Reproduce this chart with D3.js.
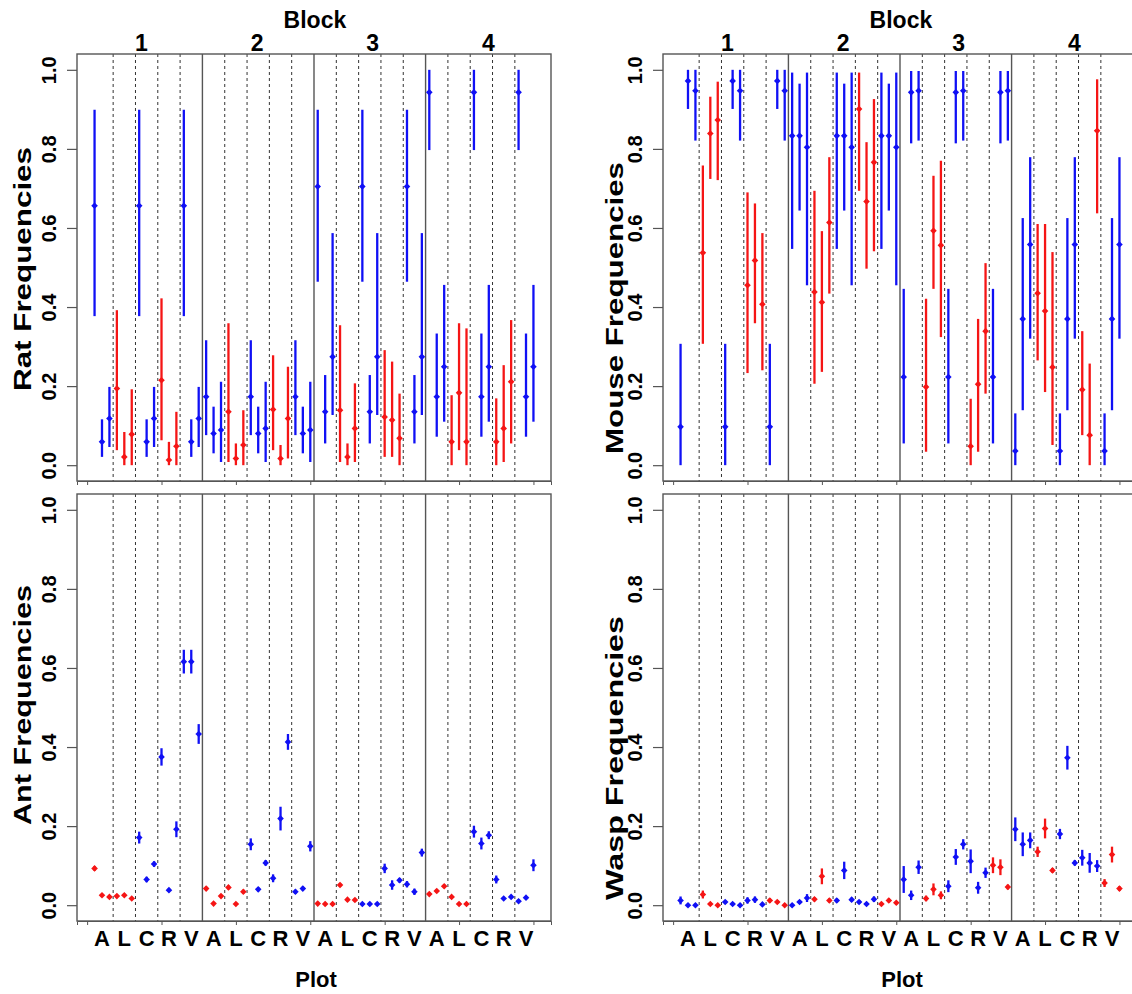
<!DOCTYPE html>
<html><head><meta charset="utf-8">
<script src="https://cdn.jsdelivr.net/npm/d3@7"></script>
<style>
body{margin:0;background:#fff;}
text{font-family:"Liberation Sans",Arial,Helvetica,sans-serif;font-weight:bold;fill:#000;}
</style></head>
<body><svg id="c" width="1132" height="994"></svg>
<script>
const plotLabels = ["A","L","C","R","V"];
const blockLabels = ["1","2","3","4"];
const yTicks = [0,0.2,0.4,0.6,0.8,1.0];
const xTicks = [0,10,20,30,40,50,60];

const ratColors   = ["blue","red","blue","red","blue"];
const mouseColors = ["blue","red","blue","red","blue"];
const antColors   = ["red","red","blue","blue","blue"];
const waspColors  = ["blue","red","blue","blue","red"];

const ratMean = [
 0.656,0.059,0.118, 0.194,0.021,0.078, 0.656,0.059,0.118, 0.215,0.013,0.048, 0.656,0.059,0.118,
 0.173,0.080,0.089, 0.135,0.017,0.051, 0.173,0.080,0.093, 0.141,0.017,0.118, 0.173,0.080,0.089,
 0.705,0.135,0.274, 0.139,0.021,0.093, 0.705,0.135,0.274, 0.122,0.114,0.068, 0.705,0.135,0.274,
 0.943,0.173,0.249, 0.059,0.183,0.059, 0.943,0.173,0.249, 0.059,0.093,0.211, 0.943,0.173,0.249];
const ratLow = [
 0.377,0.021,0.046, 0.038,0,0, 0.377,0.021,0.046, 0.063,0,0, 0.377,0.021,0.046,
 0.076,0.030,0.008, 0.008,0,0, 0.076,0.030,0.008, 0.038,0,0.017, 0.076,0.030,0.008,
 0.464,0.055,0.127, 0.008,0,0.008, 0.464,0.055,0.127, 0.021,0.021,0, 0.464,0.055,0.127,
 0.797,0.072,0.110, 0,0.038,0, 0.797,0.072,0.110, 0,0.008,0.055, 0.797,0.072,0.110];
const ratHigh = [
 0.899,0.116,0.198, 0.392,0.084,0.192, 0.899,0.116,0.198, 0.422,0.059,0.135, 0.899,0.116,0.198,
 0.316,0.148,0.211, 0.359,0.055,0.139, 0.316,0.148,0.211, 0.278,0.051,0.249, 0.316,0.148,0.211,
 0.899,0.228,0.587, 0.354,0.055,0.207, 0.899,0.228,0.587, 0.291,0.262,0.181, 0.899,0.228,0.587,
 1.0,0.333,0.456, 0.177,0.359,0.346, 1.0,0.333,0.456, 0.169,0.253,0.367, 1.0,0.333,0.456];

const mouseMean = [
 0.097,0.972,0.947, 0.537,0.839,0.873, 0.097,0.972,0.947, 0.455,0.518,0.407, 0.097,0.972,0.947,
 0.833,0.833,0.804, 0.438,0.412,0.614, 0.833,0.833,0.804, 0.901,0.667,0.766, 0.833,0.833,0.804,
 0.223,0.943,0.947, 0.198,0.593,0.556, 0.223,0.943,0.947, 0.048,0.205,0.339, 0.223,0.943,0.947,
 0.036,0.370,0.558, 0.435,0.390,0.248, 0.036,0.370,0.558, 0.191,0.076,0.846, 0.036,0.370,0.558];
const mouseLow = [
 0,0.901,0.821, 0.307,0.724,0.721, 0,0.901,0.821, 0.233,0.359,0.240, 0,0.901,0.821,
 0.547,0.644,0.455, 0.206,0.236,0.434, 0.547,0.644,0.455, 0.694,0.497,0.541, 0.547,0.644,0.455,
 0.055,0.814,0.821, 0.034,0.446,0.324, 0.055,0.814,0.821, 0,0.034,0.181, 0.055,0.814,0.821,
 0,0.139,0.320, 0.265,0.185,0.051, 0,0.139,0.320, 0.076,0,0.637, 0,0.139,0.320];
const mouseHigh = [
 0.307,1,1, 0.758,0.932,0.970, 0.307,1,1, 0.690,0.662,0.587, 0.307,1,1,
 0.993,0.965,0.993, 0.694,0.592,0.779, 0.993,0.965,0.993, 0.993,0.817,0.926, 0.993,0.965,0.993,
 0.446,0.997,0.997, 0.421,0.732,0.770, 0.446,0.997,0.997, 0.168,0.370,0.511, 0.446,0.997,0.997,
 0.131,0.625,0.779, 0.610,0.610,0.539, 0.131,0.625,0.779, 0.339,0.257,0.976, 0.131,0.625,0.779];

const antMean = [
 0.093,0.025,0.021, 0.023,0.025,0.017, 0.171,0.065,0.104, 0.375,0.038,0.192, 0.616,0.616,0.433,
 0.042,0.004,0.023, 0.045,0.003,0.034, 0.154,0.040,0.107, 0.068,0.219,0.413, 0.034,0.042,0.149,
 0.004,0.003,0.003, 0.051,0.014,0.013, 0.003,0.003,0.003, 0.093,0.051,0.063, 0.053,0.034,0.133,
 0.028,0.036,0.048, 0.021,0.003,0.003, 0.186,0.156,0.177, 0.065,0.017,0.021, 0.010,0.019,0.101];
const antLow = [
 0.087,0.021,0.017, 0.019,0.021,0.013, 0.156,0.058,0.097, 0.353,0.033,0.172, 0.586,0.586,0.408,
 0.037,0.001,0.019, 0.040,0.000,0.029, 0.139,0.035,0.100, 0.058,0.189,0.393, 0.029,0.037,0.136,
 0.001,0.000,0.000, 0.046,0.010,0.009, 0.000,0.000,0.000, 0.081,0.039,0.057, 0.045,0.026,0.123,
 0.024,0.031,0.043, 0.017,0.000,0.000, 0.171,0.141,0.167, 0.055,0.013,0.017, 0.006,0.015,0.086];
const antHigh = [
 0.099,0.029,0.025, 0.027,0.029,0.021, 0.186,0.072,0.111, 0.397,0.043,0.212, 0.646,0.646,0.458,
 0.047,0.007,0.027, 0.050,0.006,0.039, 0.169,0.045,0.114, 0.078,0.249,0.433, 0.039,0.047,0.162,
 0.007,0.006,0.006, 0.056,0.018,0.017, 0.006,0.006,0.006, 0.105,0.063,0.069, 0.061,0.042,0.143,
 0.032,0.041,0.053, 0.025,0.006,0.006, 0.201,0.171,0.187, 0.075,0.021,0.025, 0.014,0.023,0.116];

const waspMean = [
 0.012,0.000,0.000, 0.027,0.003,0.000, 0.008,0.003,0.000, 0.012,0.014,0.002, 0.012,0.008,0.000,
 0.000,0.008,0.018, 0.015,0.073,0.012, 0.012,0.088,0.014, 0.008,0.003,0.015, 0.003,0.012,0.006,
 0.065,0.025,0.096, 0.017,0.040,0.025, 0.048,0.122,0.154, 0.111,0.044,0.082, 0.101,0.096,0.046,
 0.192,0.154,0.164, 0.135,0.194,0.088, 0.180,0.373,0.107, 0.120,0.107,0.099, 0.056,0.128,0.042];
const waspLow = [
 0.002,0,0, 0.017,0,0, 0.003,0,0, 0.004,0.006,0, 0.006,0.003,0,
 0,0.003,0.008, 0.010,0.053,0.007, 0.007,0.066,0.009, 0.003,0,0.008, 0,0.007,0.002,
 0.031,0.013,0.079, 0.010,0.025,0.015, 0.033,0.102,0.141, 0.081,0.029,0.069, 0.081,0.076,0.040,
 0.162,0.124,0.144, 0.122,0.169,0.082, 0.167,0.343,0.100, 0.100,0.082,0.084, 0.046,0.108,0.036];
const waspHigh = [
 0.022,0.004,0.004, 0.037,0.007,0.004, 0.013,0.007,0.004, 0.020,0.022,0.006, 0.018,0.013,0.004,
 0.004,0.013,0.028, 0.020,0.093,0.017, 0.017,0.110,0.019, 0.013,0.007,0.022, 0.007,0.017,0.010,
 0.099,0.037,0.113, 0.024,0.055,0.035, 0.063,0.142,0.167, 0.141,0.059,0.095, 0.121,0.116,0.052,
 0.222,0.184,0.184, 0.148,0.219,0.094, 0.193,0.403,0.114, 0.140,0.132,0.114, 0.066,0.148,0.048];

const colorMap = {blue:"#1010f5", red:"#f51515"};

const panels = [
 {title:"Rat Frequencies",   mean:ratMean,   lo:ratLow,   hi:ratHigh,   cols:ratColors,   left:77,  top:54,  isTop:true,  tx:22,  tc:269, tl:244},
 {title:"Mouse Frequencies", mean:mouseMean, lo:mouseLow, hi:mouseHigh, cols:mouseColors, left:663, top:54,  isTop:true,  tx:614, tc:308, tl:292},
 {title:"Ant Frequencies",   mean:antMean,   lo:antLow,   hi:antHigh,   cols:antColors,   left:77,  top:494, isTop:false, tx:22,  tc:705, tl:240},
 {title:"Wasp Frequencies",  mean:waspMean,  lo:waspLow,  hi:waspHigh,  cols:waspColors,  left:663, top:494, isTop:false, tx:614, tc:758, tl:284}
];
const PW = 474, PH = 427;
const svg = d3.select("#c");
svg.append("rect").attr("width",1132).attr("height",994).attr("fill","#fff");

panels.forEach(p => {
  const n = p.mean.length;
  const pad = (n-1)*0.04;
  const x = d3.scaleLinear().domain([1-pad, n+pad]).range([p.left, p.left+PW]);
  const y = d3.scaleLinear().domain([-0.04, 1.04]).range([p.top+PH, p.top]);
  const g = svg.append("g");
  const idx = d3.range(n);

  const dashed = [], solid = [];
  for (let b=0;b<4;b++){
    for (let k=1;k<5;k++) dashed.push(b*15 + k*3 + 0.5);
    if (b>0) solid.push(b*15 + 0.5);
  }
  g.selectAll(".dsh").data(dashed).join("line")
    .attr("x1",d=>x(d)).attr("x2",d=>x(d)).attr("y1",p.top).attr("y2",p.top+PH)
    .attr("stroke","#333").attr("stroke-width",1).attr("stroke-dasharray","3,3");
  g.selectAll(".sld").data(solid).join("line")
    .attr("x1",d=>x(d)).attr("x2",d=>x(d)).attr("y1",p.top).attr("y2",p.top+PH)
    .attr("stroke","#555").attr("stroke-width",1.4);

  g.append("rect").attr("x",p.left).attr("y",p.top).attr("width",PW).attr("height",PH)
    .attr("fill","none").attr("stroke","#555").attr("stroke-width",1.4);

  const colOf = i => colorMap[p.cols[Math.floor((i%15)/3)]];

  g.selectAll(".ci").data(idx).join("line")
    .attr("x1",i=>x(i+1)).attr("x2",i=>x(i+1))
    .attr("y1",i=>y(p.lo[i])).attr("y2",i=>y(p.hi[i]))
    .attr("stroke",colOf).attr("stroke-width",2.3);
  const r = 3.3;
  g.selectAll(".pt").data(idx).join("path")
    .attr("d",i=>{const cx=x(i+1), cy=y(p.mean[i]); return `M${cx},${cy-r}L${cx+r},${cy}L${cx},${cy+r}L${cx-r},${cy}Z`;})
    .attr("fill",colOf);

  const ya = g.append("g").attr("transform",`translate(${p.left},0)`)
    .call(d3.axisLeft(y).tickValues(yTicks).tickSize(10).tickFormat(d3.format(".1f")));
  ya.select(".domain").remove();
  ya.selectAll(".tick line").attr("stroke","#555").attr("stroke-width",1.2);
  ya.selectAll(".tick text").attr("x",null).attr("dy",null)
    .attr("transform","translate(-28,0) rotate(-90)")
    .attr("text-anchor","middle").attr("dominant-baseline","central")
    .style("font-size","20px").style("font-family","'Liberation Sans',Arial,sans-serif").style("font-weight","bold").attr("fill","#000");

  const xa = g.append("g").attr("transform",`translate(0,${p.top+PH})`)
    .call(d3.axisBottom(x).tickValues(xTicks).tickSize(4).tickFormat(""));
  xa.select(".domain").attr("stroke","#555");
  xa.selectAll(".tick line").attr("stroke","#555");

  g.append("text").attr("transform",`translate(${p.tx},${p.tc}) rotate(-90)`)
    .attr("text-anchor","middle").attr("dominant-baseline","central")
    .attr("textLength",p.tl).attr("lengthAdjust","spacingAndGlyphs")
    .style("font-size","24px").text(p.title);

  const centers = d3.range(20).map(k => 2 + 3*k);
  if (p.isTop){
    const bx = d3.scalePoint().domain(blockLabels).range([x(7.3), x(7.3)+347]);
    g.selectAll(".bl").data(blockLabels).join("text")
      .attr("x",d=>bx(d)).attr("y",43).attr("text-anchor","middle")
      .attr("dominant-baseline","central").style("font-size","23px").text(d=>d);
    g.append("text").attr("x",(bx("2")+bx("3"))/2).attr("y",20).attr("text-anchor","middle")
      .attr("dominant-baseline","central").style("font-size","23px").text("Block");
  } else {
    g.selectAll(".pl").data(centers).join("text")
      .attr("x",d=>x(d)).attr("y",938).attr("text-anchor","middle")
      .attr("dominant-baseline","central").style("font-size","22px")
      .text((d,i)=>plotLabels[i%5]);
    g.append("text").attr("x",p.left+PW/2+2).attr("y",979).attr("text-anchor","middle")
      .attr("dominant-baseline","central").style("font-size","22px").text("Plot");
  }
});
</script></body></html>
